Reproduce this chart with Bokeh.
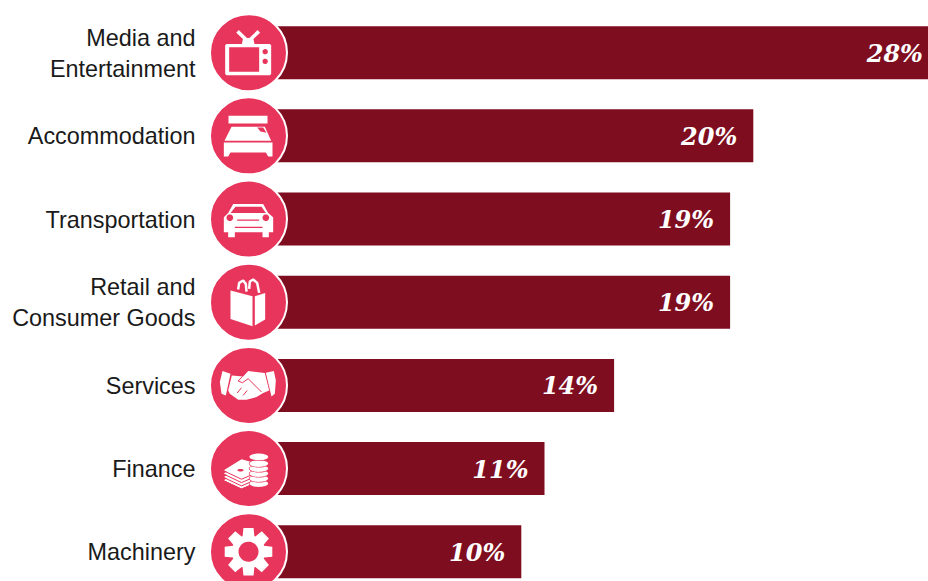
import numpy as np
from bokeh.plotting import figure
from bokeh.models import Range1d
from bokeh.core.properties import value
from bokeh.embed import file_html
from bokeh.resources import INLINE

categories = ["Media and\nEntertainment", "Accommodation", "Transportation",
              "Retail and\nConsumer Goods", "Services", "Finance", "Machinery"]
shares = [28, 20, 19, 19, 14, 11, 10]
share_labels = ["28%", "20%", "19%", "19%", "14%", "11%", "10%"]

BAR = "#7F0D20"
PINK = "#E8355C"
WHITE = "#FFFFFF"
PX_X = 23.2      # px per percentage point
PX_Y = 83.17     # px per row
BASE = -1.0      # bars start behind the round icon
ICON_CX = (248 - 288.8) / PX_X

rows = list(range(len(categories)))
p = figure(width=928, height=581, output_backend="svg", toolbar_location=None,
           x_range=Range1d((0 - 288.8) / PX_X, (928 - 288.8) / PX_X),
           y_range=Range1d((581 - 52.2) / PX_Y, (0 - 52.2) / PX_Y),
           min_border=0, outline_line_color=None, background_fill_color=WHITE)
p.axis.visible = False
p.grid.visible = False

p.hbar(y=rows, left=BASE, right=shares, height=53 / PX_Y, fill_color=BAR, line_color=None)
p.text(x=shares, y=rows, text=share_labels, x_offset=-16, y_offset=0.5, text_align="right",
       text_baseline="middle", text_color=WHITE, text_font=value("DejaVu Serif"),
       text_font_style="bold italic", text_font_size="24px")
p.text(x=[(195 - 288.8) / PX_X] * len(rows), y=rows, text=categories, y_offset=0.5, text_align="right",
       text_baseline="middle", text_color="#1A1A1A", text_font=value("Liberation Sans"),
       text_font_size="23.4px", text_line_height=1.18)
p.scatter(x=[ICON_CX] * len(rows), y=rows, size=77, marker="circle", fill_color=PINK,
          line_color=WHITE, line_width=2)


def tx(row, pts, c):
    """icon outline, given in 3x crop units around the icon centre c"""
    a = np.array(pts, dtype=float)
    return (ICON_CX + (a[:, 0] - c[0]) / 3 / PX_X).tolist(), (row + (a[:, 1] - c[1]) / 3 / PX_Y).tolist()


def poly(row, pts, c, color=WHITE):
    x, y = tx(row, pts, c)
    p.patch(x, y, fill_color=color, line_color=None)


def line(row, pts, c, w=2.0, color=WHITE):
    x, y = tx(row, pts, c)
    p.line(x, y, line_color=color, line_width=w)


def ell(cx, cy, rx, ry):
    t = np.linspace(0, 2 * np.pi, 40)
    return np.c_[cx + rx * np.cos(t), cy + ry * np.sin(t)].tolist()


# TV
c = (146, 156)
poly(0, [(80, 130), (210, 130), (214, 134), (214, 220), (210, 224), (80, 224), (76, 220), (76, 134)], c)
poly(0, [(88, 140), (178, 140), (178, 213), (88, 213)], c, PINK)
poly(0, ell(196, 153, 8, 8), c, PINK)
poly(0, ell(196, 182, 8, 8), c, PINK)
line(0, [(113, 92), (140, 118)], c, 3.5)
line(0, [(177, 92), (150, 118)], c, 3.5)
poly(0, [(130, 112), (160, 112), (164, 130), (126, 130)], c)

# Bed
c = (146, 405)
poly(1, [(86, 345), (203, 345), (203, 368), (86, 368)], c)
poly(1, [(95, 378), (195, 378), (214, 420), (74, 420)], c)
poly(1, [(172, 380), (190, 380), (200, 396), (182, 392)], c, PINK)
poly(1, [(72, 425), (218, 425), (218, 467), (205, 467), (198, 455), (92, 455), (85, 467), (72, 467)], c)

# Car
c = (146, 130)
poly(2, [(100, 85), (190, 85), (205, 112), (220, 125), (220, 170), (207, 170), (207, 185), (188, 185),
         (188, 170), (105, 170), (105, 185), (85, 185), (85, 170), (72, 170), (72, 125), (85, 112)], c)
poly(2, [(107, 93), (185, 93), (198, 112), (92, 112)], c, PINK)
poly(2, ell(90, 126, 10, 10), c, PINK)
poly(2, ell(198, 126, 10, 10), c, PINK)
line(2, [(112, 133), (178, 133)], c, 1.2, PINK)
line(2, [(105, 155), (188, 155)], c, 1.2, PINK)

# Shopping bag
c = (146, 380)
poly(3, [(92, 345), (158, 362), (158, 452), (92, 430)], c)
poly(3, [(165, 362), (196, 352), (196, 432), (165, 450)], c)
line(3, [(115, 342), (118, 322), (130, 315), (138, 325), (140, 348)], c, 2.5)
line(3, [(148, 340), (150, 318), (160, 312), (172, 322), (178, 352)], c, 2.5)

# Handshake
c = (146, 135)
poly(4, [(68, 92), (92, 100), (78, 165), (65, 160), (60, 125)], c)
poly(4, [(222, 92), (198, 97), (215, 168), (225, 160), (228, 120)], c)
poly(4, [(96, 105), (130, 108), (145, 92), (195, 98), (208, 150), (190, 158), (170, 170), (140, 178),
         (115, 178), (90, 160), (85, 150)], c)
line(4, [(128, 108), (115, 122), (128, 127), (145, 115), (185, 155)], c, 1.0, PINK)
line(4, [(112, 158), (125, 142)], c, 1.0, PINK)
line(4, [(130, 165), (142, 150)], c, 1.0, PINK)

# Coins and notes
c = (146, 380)
for dy in (30, 20, 10, 0):
    poly(5, [(72, 385 + dy), (125, 352 + dy), (160, 362 + dy), (160, 395 + dy), (125, 410 + dy)], c)
    line(5, [(72, 387 + dy), (125, 412 + dy), (160, 397 + dy)], c, 1.0, PINK)
poly(5, ell(122, 385, 9, 4), c, PINK)
for y0 in (425, 410, 395, 380, 365, 345):
    poly(5, ell(177, y0, 30, 12), c, PINK)
    poly(5, ell(177, y0, 28, 10), c)

# Gear
c = (146, 630)
teeth = []
for k in range(8):
    a = k * np.pi / 4 - np.pi / 2
    for da, r in ((-0.36, 50), (-0.21, 73), (0.21, 73), (0.36, 50)):
        teeth.append((146 + r * np.cos(a + da), 630 + r * np.sin(a + da)))
poly(6, teeth, c)
poly(6, ell(146, 630, 30, 30), c, PINK)

open("out.html", "w").write(file_html(p, INLINE))
